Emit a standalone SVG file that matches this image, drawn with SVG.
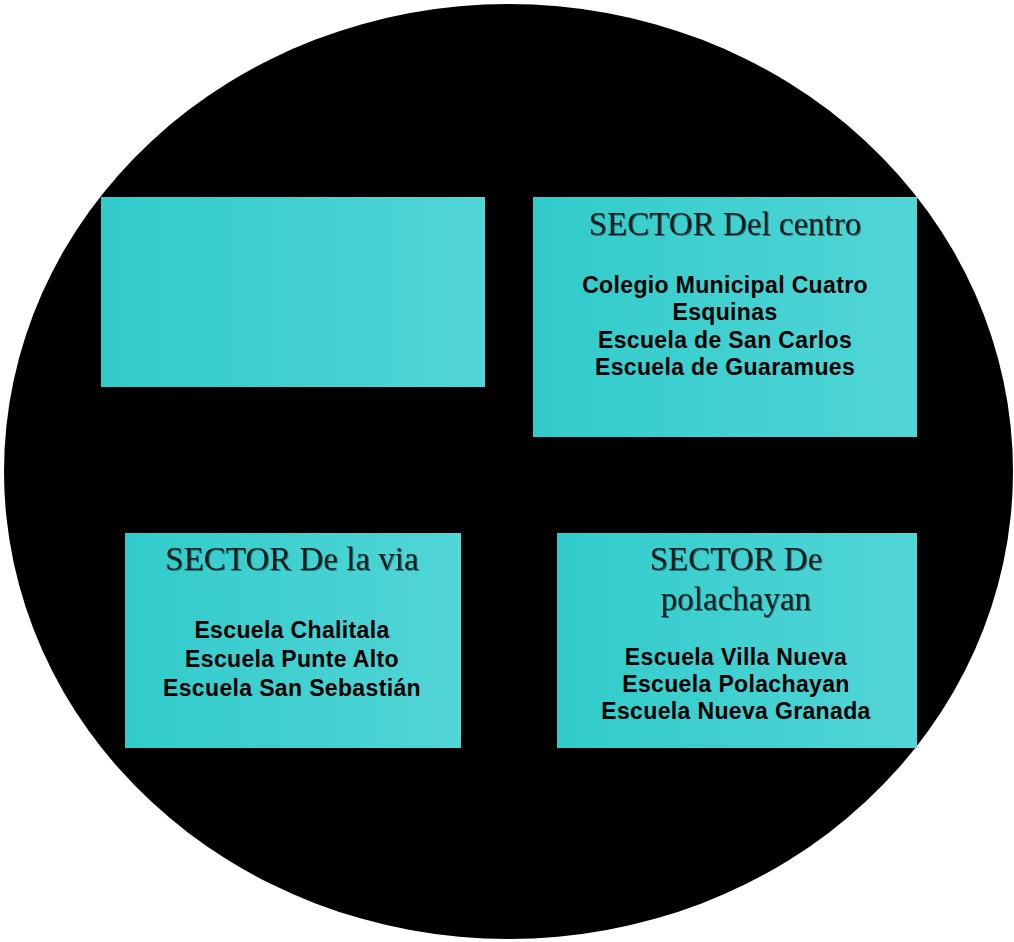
<svg xmlns="http://www.w3.org/2000/svg" width="1014" height="942" viewBox="0 0 1014 942">
  <defs>
    <linearGradient id="teal" x1="0" y1="0" x2="1" y2="0">
      <stop offset="0" stop-color="#31CBCB"/>
      <stop offset="1" stop-color="#52D5D6"/>
    </linearGradient>
    <filter id="shadow" x="-5%" y="-20%" width="110%" height="140%">
      <feDropShadow dx="1" dy="1" stdDeviation="0.4" flood-color="#1f6a6a" flood-opacity="0.9"/>
    </filter>
  </defs>
  <style>
    .box { fill: url(#teal); }
    .title { font-family: "Liberation Serif", "Times New Roman", serif; font-size: 33px; fill: #0b1c1c; text-anchor: middle; filter: url(#shadow); }
    .item { font-family: "Liberation Sans", Arial, sans-serif; font-size: 23px; font-weight: bold; fill: #000000; text-anchor: middle; letter-spacing: 0.35px; }
  </style>
  <rect width="1014" height="942" fill="#ffffff"/>
  <ellipse id="background" cx="508.5" cy="471.5" rx="504.5" ry="467.5" fill="#000000"/>

  <g id="connectors"></g>

  <g id="node-empty">
    <rect class="box" x="101" y="197" width="384" height="190"/>
  </g>

  <g id="node-centro">
    <rect class="box" x="533" y="197" width="384" height="240"/>
    <text class="title" x="725" y="235">SECTOR Del centro</text>
    <text class="item" x="725" y="293">Colegio Municipal Cuatro</text>
    <text class="item" x="725" y="320">Esquinas</text>
    <text class="item" x="725" y="348">Escuela de San Carlos</text>
    <text class="item" x="725" y="375">Escuela de Guaramues</text>
  </g>

  <g id="node-via">
    <rect class="box" x="125" y="533" width="336" height="215"/>
    <text class="title" x="292" y="570">SECTOR De la via</text>
    <text class="item" x="292" y="638">Escuela Chalitala</text>
    <text class="item" x="292" y="667">Escuela Punte Alto</text>
    <text class="item" x="292" y="696">Escuela San Sebastián</text>
  </g>

  <g id="node-polachayan">
    <rect class="box" x="557" y="533" width="360" height="215"/>
    <text class="title" x="736" y="570">SECTOR De</text>
    <text class="title" x="736" y="610">polachayan</text>
    <text class="item" x="736" y="665">Escuela Villa Nueva</text>
    <text class="item" x="736" y="692">Escuela Polachayan</text>
    <text class="item" x="736" y="719">Escuela Nueva Granada</text>
  </g>
</svg>
